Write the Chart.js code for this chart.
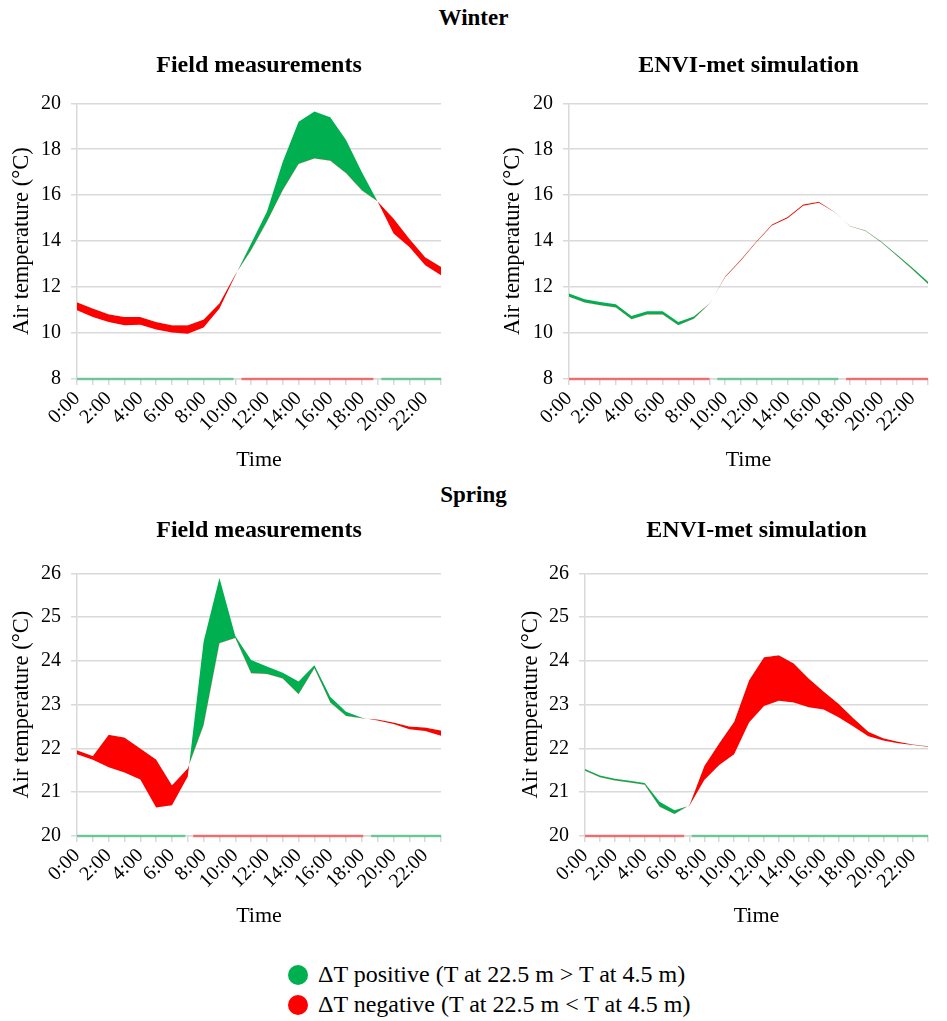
<!DOCTYPE html>
<html><head><meta charset="utf-8">
<script src="https://cdn.jsdelivr.net/npm/chart.js@4.4.1/dist/chart.umd.min.js"></script>
<style>
body{margin:0;width:947px;height:1021px;position:relative;background:#fff;font-family:"Liberation Serif","Times New Roman",serif;overflow:hidden;color:#000}
.box{position:absolute}
.h{position:absolute;left:0;width:947px;text-align:center;font-weight:bold;font-size:23px;line-height:26px}
.legend{position:absolute;left:288px;top:959px;font-size:24px;line-height:30px}
.dot{display:inline-block;width:20px;height:20px;border-radius:50%;vertical-align:-3px;margin-right:10px}
</style></head><body>
<div class="h" style="top:5px">Winter</div>
<div class="h" style="top:482px">Spring</div>
<div class="box" style="left:0;top:40px"><canvas id="c1" width="460" height="440"></canvas></div>
<div class="box" style="left:480px;top:40px"><canvas id="c2" width="467" height="440"></canvas></div>
<div class="box" style="left:0;top:505px"><canvas id="c3" width="460" height="431"></canvas></div>
<div class="box" style="left:480px;top:505px"><canvas id="c4" width="467" height="431"></canvas></div>
<div class="legend">
<div><span class="dot" style="background:#00b050"></span>ΔT positive (T at 22.5 m &gt; T at 4.5 m)</div>
<div><span class="dot" style="background:#ff0000"></span>ΔT negative (T at 22.5 m &lt; T at 4.5 m)</div>
</div>
<script>
const hours = ['0:00','1:00','2:00','3:00','4:00','5:00','6:00','7:00','8:00','9:00','10:00','11:00',
               '12:00','13:00','14:00','15:00','16:00','17:00','18:00','19:00','20:00','21:00','22:00','23:00'];

// Winter – field measurements
const winterField22 = [10.99,10.70,10.48,10.34,10.36,10.15,10.02,9.97,10.24,11.07,12.50,13.90,
                       15.28,17.46,19.20,19.64,19.39,18.40,17.00,15.71,14.33,13.75,12.95,12.52];
const winterField45 = [11.34,11.07,10.82,10.70,10.70,10.48,10.34,10.34,10.59,11.30,12.55,13.60,
                       14.84,16.22,17.36,17.60,17.50,16.95,16.20,15.73,14.99,14.10,13.30,12.88];
// Winter – ENVI-met simulation
const winterEnvi22 = [11.72,11.47,11.35,11.25,10.74,10.95,10.95,10.48,10.72,11.29,12.43,13.15,
                      13.95,14.68,15.00,15.54,15.67,15.27,14.66,14.46,13.99,13.42,12.84,12.23];
const winterEnvi45 = [11.58,11.33,11.21,11.11,10.60,10.81,10.81,10.34,10.62,11.28,12.46,13.19,
                      13.99,14.72,15.05,15.60,15.71,15.28,14.65,14.44,13.95,13.36,12.77,12.13];
// Spring – field measurements
const springField22 = [21.87,21.74,21.57,21.45,21.29,20.65,20.70,21.36,24.44,25.89,24.57,24.02,
                       23.87,23.73,23.53,23.90,23.18,22.84,22.70,22.64,22.56,22.44,22.40,22.29];
const springField45 = [21.96,21.83,22.31,22.25,22.00,21.75,21.16,21.55,22.53,24.40,24.52,23.72,
                       23.70,23.60,23.24,23.83,23.05,22.74,22.69,22.66,22.59,22.50,22.48,22.41];
// Spring – ENVI-met simulation
const springEnvi22 = [21.53,21.38,21.31,21.26,21.21,20.78,20.59,20.69,21.28,21.62,21.87,22.59,
                      22.97,23.09,23.05,22.94,22.89,22.71,22.50,22.28,22.18,22.12,22.08,22.04];
const springEnvi45 = [21.49,21.34,21.27,21.22,21.17,20.67,20.50,20.70,21.60,22.12,22.61,23.56,
                      24.08,24.13,23.94,23.60,23.30,23.02,22.69,22.38,22.23,22.15,22.09,22.05];

const winterTicks = {min: 8, max: 20, step: 2};
const springTicks = {min: 20, max: 26, step: 1};

const GREEN = '#00b050', RED = '#ff0000';
const LIGHT_GREEN = 'rgba(0,176,80,0.5)', LIGHT_RED = 'rgba(255,0,0,0.5)';
const FONT = '"Liberation Serif","Times New Roman",serif';
const GRID = '#d9d9d9';

// thin light strip along the bottom axis (inverse colour of the band), as in the original figure
const stripPlugin = {
  id: 'strip',
  beforeDatasetsDraw(chart) {
    const a = chart.data.datasets[0].data, b = chart.data.datasets[1].data;
    const xs = chart.scales.x, ys = chart.scales.y;
    const yPix = ys.getPixelForValue(ys.min);
    const n = a.length, GAP = 0.25;
    const cr = [];
    for (let i = 0; i < n - 1; i++) {
      const d0 = a[i] - b[i], d1 = a[i + 1] - b[i + 1];
      if (d0 * d1 < 0) cr.push(i + d0 / (d0 - d1));
    }
    const bounds = [0, ...cr, n - 1];
    const ctx = chart.ctx;
    ctx.save();
    ctx.lineWidth = 2.5;
    for (let k = 0; k < bounds.length - 1; k++) {
      let s = bounds[k], e = bounds[k + 1];
      const m = (s + e) / 2, i = Math.min(Math.floor(m), n - 2), f = m - i;
      const d = (a[i] - b[i]) * (1 - f) + (a[i + 1] - b[i + 1]) * f;
      if (k > 0) s += GAP;
      if (k < bounds.length - 2) e -= GAP;
      if (e <= s) continue;
      ctx.strokeStyle = d > 0 ? LIGHT_RED : LIGHT_GREEN;
      ctx.beginPath();
      ctx.moveTo(xs.getPixelForValue(s), yPix);
      ctx.lineTo(xs.getPixelForValue(e), yPix);
      ctx.stroke();
    }
    ctx.restore();
  }
};

function makeChart(id, title, t22, t45, tk, opt) {
  return new Chart(document.getElementById(id), {
    type: 'line',
    data: {
      labels: hours,
      datasets: [
        {label: 'T at 22.5 m', data: t22, borderWidth: 0, pointRadius: 0, tension: 0,
         fill: {target: 1, above: GREEN, below: RED}},
        {label: 'T at 4.5 m', data: t45, borderWidth: 0, pointRadius: 0, tension: 0, fill: false}
      ]
    },
    options: {
      responsive: false,
      animation: false,
      layout: {padding: {left: opt.padLeft, right: opt.padRight, top: 0, bottom: 0}},
      plugins: {
        legend: {display: false},
        tooltip: {enabled: false},
        title: {display: true, text: title, color: '#000', fullSize: false,
                font: {family: FONT, size: 24, weight: 'bold'},
                padding: {top: 11, bottom: opt.titleBottom}}
      },
      scales: {
        x: {
          ticks: {autoSkip: false, maxRotation: 45, minRotation: 45, color: '#000', padding: 2,
                  font: {family: FONT, size: 20},
                  callback: (v, i) => (i % 2 === 0 ? hours[i] : '')},
          grid: {display: true, drawOnChartArea: false, color: GRID, lineWidth: 1.5, tickLength: 6},
          border: {color: GRID, width: 1.5},
          title: {display: true, text: 'Time', color: '#000', font: {family: FONT, size: 22},
                  padding: {top: 7, bottom: 7}},
          afterFit(s) { s.height = opt.xH; }
        },
        y: {
          min: tk.min, max: tk.max,
          ticks: {stepSize: tk.step, color: '#000', padding: 10, font: {family: FONT, size: 20}},
          grid: {color: GRID, lineWidth: 1.5, tickLength: 6},
          border: {color: GRID, width: 1.5},
          title: {display: true, text: 'Air temperature (°C)', color: '#000',
                  font: {family: FONT, size: 22.5}, padding: {top: 4, bottom: 4}},
          afterFit(s) { s.width = opt.yW; }
        }
      }
    },
    plugins: [stripPlugin]
  });
}

makeChart('c1', 'Field measurements', winterField22, winterField45, winterTicks,
          {padLeft: 5, padRight: 13, yW: 72, xH: 101, titleBottom: 23.5});
makeChart('c2', 'ENVI-met simulation', winterEnvi22, winterEnvi45, winterTicks,
          {padLeft: 16, padRight: 8, yW: 73, xH: 101, titleBottom: 23.5});
makeChart('c3', 'Field measurements', springField22, springField45, springTicks,
          {padLeft: 5, padRight: 13, yW: 72, xH: 100, titleBottom: 28.5});
makeChart('c4', 'ENVI-met simulation', springEnvi22, springEnvi45, springTicks,
          {padLeft: 34, padRight: 0, yW: 71, xH: 100, titleBottom: 28.5});
</script>
</body></html>
